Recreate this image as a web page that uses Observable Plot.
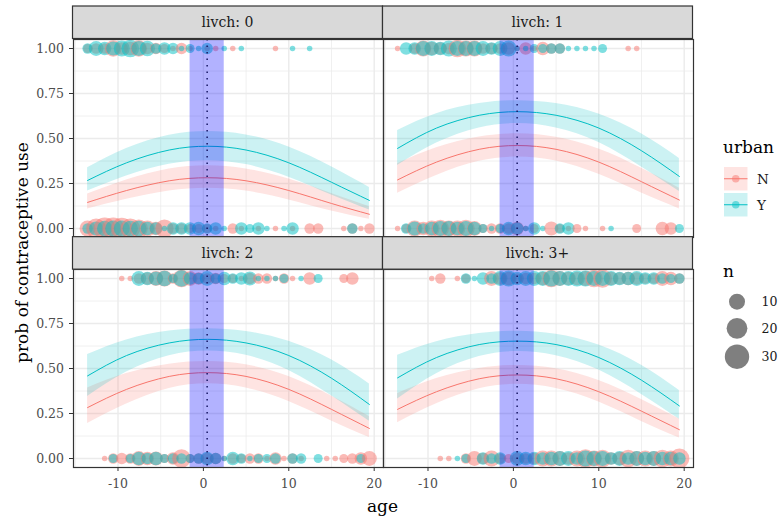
<!DOCTYPE html>
<html><head><meta charset="utf-8">
<script src="https://cdn.jsdelivr.net/npm/d3@7"></script>
<script src="https://cdn.jsdelivr.net/npm/@observablehq/plot@0.6"></script>
<style>
body{margin:0;background:#fff;}
#wrap{position:relative;width:779px;height:520px;background:#fff;overflow:hidden;}
#wrap svg{position:absolute;left:0;top:0;}
</style></head><body><div id="wrap"></div>
<script>
// ---------- data ----------
const ages = [-13.56,-12.56,-11.56,-10.56,-9.56,-8.56,-7.56,-6.56,-5.56,-4.56,-3.56,-2.56,-1.56,-0.56,0.44,1.44,2.44,3.44,4.44,5.44,6.44,7.44,8.44,9.44,10.44,11.44,12.44,13.44,14.44,15.44,16.44,17.44,18.44,19.44];
const livchLevels = ["0","1","2","3+"];
const urbanLevels = ["N","Y"];

// counts n by age index (use = 1 row, use = 0 row), per urban
const l0_use_N = [2,3,3,11,5,6,11,4,4,2, 1,4,1,0,1,1,0,1,0,0, 0,0,1,0,0,0,0,0,0,0, 0,0,0,0];
const l0_use_Y = [3,8,6,7,10,13,8,9,3,5, 4,1,2,1,4,0,1,0,1,0, 0,0,0,0,1,0,1,0,0,0, 0,0,0,0];
const l0_non_N = [10,18,23,23,22,18,14,10,6,14, 3,3,2,2,2,1,0,3,1,0, 1,0,1,0,1,0,3,3,0,0, 1,3,1,3];
const l0_non_Y = [3,7,9,10,10,9,9,6,5,1, 5,5,5,6,3,5,1,0,5,2, 5,1,0,1,5,0,0,0,0,0, 0,3,0,0];
const l1_use_N = [1,0,3,10,6,5,4,13,10,10, 3,4,3,5,1,5,1,6,3,3, 0,0,0,0,0,0,0,1,1,0, 0,0,0,0];
const l1_use_Y = [0,5,5,8,8,6,10,8,8,8, 8,5,8,10,1,1,2,2,3,3, 1,1,1,1,2,0,0,0,0,0, 0,0,0,0];
const l1_non_N = [1,2,10,6,10,13,10,10,13,8, 2,3,3,3,6,1,2,0,7,2, 1,2,1,0,1,0,0,0,2,0, 0,6,5,0];
const l1_non_Y = [0,3,7,3,6,8,8,6,8,6, 2,1,2,6,5,1,5,1,0,3, 5,0,0,0,0,1,0,0,0,0, 0,0,0,2];
const l2_use_N = [0,0,0,0,1,1,3,5,8,10, 3,13,8,5,3,4,2,2,1,4, 3,3,1,3,1,0,5,0,0,0, 2,5,0,0];
const l2_use_Y = [0,0,0,0,0,0,8,6,7,9, 2,11,5,4,8,3,6,3,5,7, 1,1,1,2,0,1,0,2,0,0, 0,0,0,0];
const l2_non_N = [0,0,1,3,4,3,8,6,7,2, 5,15,2,3,4,4,1,3,2,3, 3,1,5,1,3,1,0,0,1,1, 2,3,5,8];
const l2_non_Y = [0,0,0,2,0,2,6,4,6,2, 3,3,2,3,6,4,1,6,3,1, 2,2,3,0,3,3,0,2,0,0, 0,0,2,0];
const l3_use_N = [0,0,0,0,1,3,0,1,2,0, 0,8,5,6,3,4,4,6,13,8, 6,6,8,13,15,6,5,6,5,3, 3,8,6,3];
const l3_use_Y = [0,0,0,0,0,0,0,0,3,1, 5,3,8,10,6,8,8,8,10,8, 8,10,10,8,8,8,6,6,8,5, 5,3,2,3];
const l3_non_N = [0,0,0,0,0,1,1,0,3,8, 4,10,3,2,4,3,4,10,10,8, 5,10,15,10,13,5,6,13,8,10, 8,13,10,18];
const l3_non_Y = [0,0,0,0,0,0,0,1,2,0, 5,3,5,0,8,6,6,5,6,8, 8,5,10,8,8,5,8,5,8,6, 8,6,6,5];

// fitted probability curves with confidence band
const fitAge = [-13.56,-9,-4,0.5,5,10,15,19.44];
const fit_l0_N = [0.145,0.211,0.265,0.282,0.265,0.211,0.139,0.079];
const lo_l0_N  = [0.109,0.163,0.209,0.224,0.208,0.159,0.097,0.051];
const hi_l0_N  = [0.191,0.269,0.330,0.349,0.331,0.275,0.195,0.121];
const fit_l0_Y = [0.267,0.365,0.436,0.457,0.436,0.365,0.257,0.156];
const lo_l0_Y  = [0.208,0.292,0.357,0.377,0.355,0.285,0.186,0.103];
const hi_l0_Y  = [0.337,0.444,0.518,0.539,0.520,0.453,0.343,0.228];
const fit_l1_N = [0.270,0.369,0.440,0.461,0.440,0.369,0.260,0.158];
const lo_l1_N  = [0.196,0.295,0.373,0.397,0.375,0.301,0.197,0.109];
const hi_l1_N  = [0.361,0.449,0.509,0.526,0.507,0.442,0.335,0.224];
const fit_l1_Y = [0.445,0.558,0.629,0.649,0.629,0.558,0.432,0.289];
const lo_l1_Y  = [0.350,0.475,0.559,0.583,0.559,0.478,0.342,0.206];
const hi_l1_Y  = [0.545,0.638,0.694,0.710,0.694,0.636,0.526,0.389];
const fit_l2_N = [0.283,0.384,0.456,0.477,0.456,0.384,0.273,0.167];
const lo_l2_N  = [0.195,0.303,0.389,0.415,0.392,0.317,0.209,0.116];
const hi_l2_N  = [0.392,0.472,0.524,0.539,0.521,0.455,0.347,0.233];
const fit_l2_Y = [0.459,0.572,0.642,0.662,0.642,0.572,0.446,0.300];
const lo_l2_Y  = [0.344,0.480,0.571,0.597,0.573,0.489,0.348,0.207];
const hi_l2_Y  = [0.578,0.659,0.708,0.721,0.706,0.651,0.548,0.414];
const fit_l3_N = [0.273,0.371,0.443,0.464,0.443,0.371,0.263,0.160];
const lo_l3_N  = [0.199,0.304,0.387,0.412,0.389,0.314,0.206,0.114];
const hi_l3_N  = [0.361,0.444,0.500,0.517,0.498,0.433,0.328,0.219];
const fit_l3_Y = [0.448,0.561,0.633,0.652,0.633,0.561,0.435,0.292];
const lo_l3_Y  = [0.330,0.471,0.566,0.594,0.571,0.491,0.356,0.218];
const hi_l3_Y  = [0.573,0.648,0.694,0.707,0.690,0.630,0.518,0.378];

// highlighted age band and its centre
const bandAge = [-1.56, 2.44];
const centreAge = [0.44];

// axis ticks and legend values
const xTicks = [-10, 0, 10, 20];
const xMinor = [-15, -5, 5, 15];
const yTicks = [0, 0.25, 0.5, 0.75, 1];
const yMinor = [0.125, 0.375, 0.625, 0.875];
const sizeLegend = [10, 20, 30];

// ---------- tables ----------
const countSets = {
  "0": {1: {N: l0_use_N, Y: l0_use_Y}, 0: {N: l0_non_N, Y: l0_non_Y}},
  "1": {1: {N: l1_use_N, Y: l1_use_Y}, 0: {N: l1_non_N, Y: l1_non_Y}},
  "2": {1: {N: l2_use_N, Y: l2_use_Y}, 0: {N: l2_non_N, Y: l2_non_Y}},
  "3+": {1: {N: l3_use_N, Y: l3_use_Y}, 0: {N: l3_non_N, Y: l3_non_Y}}
};
const fitSets = {
  "0": {N: [fit_l0_N, lo_l0_N, hi_l0_N], Y: [fit_l0_Y, lo_l0_Y, hi_l0_Y]},
  "1": {N: [fit_l1_N, lo_l1_N, hi_l1_N], Y: [fit_l1_Y, lo_l1_Y, hi_l1_Y]},
  "2": {N: [fit_l2_N, lo_l2_N, hi_l2_N], Y: [fit_l2_Y, lo_l2_Y, hi_l2_Y]},
  "3+": {N: [fit_l3_N, lo_l3_N, hi_l3_N], Y: [fit_l3_Y, lo_l3_Y, hi_l3_Y]}
};
const colOf = {"0": 0, "1": 1, "2": 0, "3+": 1};
const rowOf = {"0": 0, "1": 0, "2": 1, "3+": 1};

const points = [];
for (const lv of livchLevels) for (const use of [0, 1]) ages.forEach((a, i) => {
  for (const u of urbanLevels) {
    const n = countSets[lv][use][u][i];
    if (n > 0) points.push({livch: lv, use, urban: u, age: a, n});
  }
});
const fits = [];
for (const lv of livchLevels) for (const u of urbanLevels) fitAge.forEach((a, k) => {
  const [f, lo, hi] = fitSets[lv][u];
  fits.push({livch: lv, urban: u, age: a, fit: f[k], lo: lo[k], hi: hi[k]});
});
const bands = [{lo: bandAge[0], hi: bandAge[1]}];

// ---------- layout ----------
const FONT = "DejaVu Serif, serif";
const W = 779, H = 520;
const mL = 72.5, mR = 86.5, mT = 38.5, mB = 52.7;
const stripH = 32.5;
const panelW = (W - mL - mR) / 2;
const panelH = (H - mT - mB - stripH) / 2;
const padInner = stripH / (panelH + stripH);
const FX = d => colOf[d.livch], FY = d => rowOf[d.livch];

const chart = Plot.plot({
  width: W, height: H,
  marginLeft: mL, marginRight: mR, marginTop: mT, marginBottom: mB,
  style: {background: "transparent", fontFamily: FONT, fontSize: "12.5px", color: "#4d4d4d", overflow: "visible"},
  fx: {axis: null, domain: [0, 1], paddingInner: 0, paddingOuter: 0},
  fy: {axis: null, domain: [0, 1], paddingInner: padInner, paddingOuter: 0},
  x: {domain: [-15.21, 21.09]},
  y: {domain: [-0.05, 1.05]},
  r: {type: "sqrt", domain: [0, 34], range: [2.73, 12.97]},
  color: {domain: urbanLevels, range: ["#F8766D", "#00BFC4"]},
  marks: [
    Plot.gridX({ticks: xMinor, stroke: "#ebebeb", strokeOpacity: 1, strokeWidth: 0.75}),
    Plot.gridY({ticks: yMinor, stroke: "#ebebeb", strokeOpacity: 1, strokeWidth: 0.75}),
    Plot.gridX({ticks: xTicks, stroke: "#ebebeb", strokeOpacity: 1, strokeWidth: 1.4}),
    Plot.gridY({ticks: yTicks, stroke: "#ebebeb", strokeOpacity: 1, strokeWidth: 1.4}),
    Plot.dot(points, {x: "age", y: "use", r: d => d.n - 1, fill: "urban", fillOpacity: 0.5, stroke: null, sort: null, fx: FX, fy: FY, clip: true}),
    Plot.areaY(fits, {x: "age", y1: "lo", y2: "hi", fill: "urban", z: "urban", fillOpacity: 0.2, curve: "natural", fx: FX, fy: FY}),
    Plot.line(fits, {x: "age", y: "fit", stroke: "urban", z: "urban", strokeWidth: 1, curve: "natural", fx: FX, fy: FY}),
    Plot.ruleX(centreAge, {stroke: "#222", strokeWidth: 1.5, strokeDasharray: "1.5,5"}),
    Plot.rect(bands, {x1: "lo", x2: "hi", fill: "blue", fillOpacity: 0.3}),
    Plot.frame({stroke: "#333", strokeWidth: 1.2}),
    Plot.axisX({ticks: xTicks, tickFormat: d => String(d), tickSize: 4, tickPadding: 7.5, stroke: "#333", fill: "#4d4d4d", label: null, fontSize: 12.5}),
    Plot.axisY({ticks: yTicks, tickFormat: ".2f", tickSize: 4, tickPadding: 5.5, stroke: "#333", fill: "#4d4d4d", label: null, fontSize: 12.5})
  ]
});
document.getElementById("wrap").appendChild(chart);

// ---------- strips, titles, legends ----------
const svg = d3.select("#wrap").append("svg")
  .attr("width", W).attr("height", H).style("font-family", FONT);

for (const lv of livchLevels) {
  const x0 = mL + colOf[lv] * panelW;
  const y0 = mT + rowOf[lv] * (panelH + stripH) - stripH;
  svg.append("rect").attr("x", x0).attr("y", y0).attr("width", panelW).attr("height", stripH)
    .attr("fill", "#d9d9d9").attr("stroke", "#333").attr("stroke-width", 1.2);
  svg.append("text").attr("x", x0 + panelW / 2).attr("y", y0 + stripH / 2 + 5)
    .attr("text-anchor", "middle").attr("font-size", 14).attr("fill", "#1a1a1a").text("livch: " + lv);
}

svg.append("text").attr("x", mL + panelW).attr("y", 511.5).attr("text-anchor", "middle")
  .attr("font-size", 17).attr("fill", "#000").text("age");
svg.append("text").attr("transform", "translate(28,252.5) rotate(-90)").attr("text-anchor", "middle")
  .attr("font-size", 17).attr("fill", "#000").text("prob of contraceptive use");

// colour legend
const colorScale = chart.scale("color");
svg.append("text").attr("x", 723).attr("y", 153).attr("font-size", 17).attr("fill", "#000").text("urban");
urbanLevels.forEach((u, k) => {
  const y0 = 167 + k * 26, c = colorScale.apply(u);
  svg.append("rect").attr("x", 724).attr("y", y0).attr("width", 23.5).attr("height", 23.5)
    .attr("fill", c).attr("fill-opacity", 0.2);
  svg.append("line").attr("x1", 724).attr("x2", 747.5).attr("y1", y0 + 11.75).attr("y2", y0 + 11.75)
    .attr("stroke", c).attr("stroke-width", 1);
  svg.append("circle").attr("cx", 735.75).attr("cy", y0 + 11.75).attr("r", 3.75)
    .attr("fill", c).attr("fill-opacity", 0.5);
  svg.append("text").attr("x", 757).attr("y", y0 + 16.5).attr("font-size", 13.5).attr("fill", "#1a1a1a").text(u);
});

// size legend
const rScale = chart.scale("r");
svg.append("text").attr("x", 723).attr("y", 276.5).attr("font-size", 17).attr("fill", "#000").text("n");
const sizeY = [301.7, 328.3, 356.7];
sizeLegend.forEach((n, k) => {
  svg.append("circle").attr("cx", 737).attr("cy", sizeY[k]).attr("r", rScale.apply(n - 1))
    .attr("fill", "#000").attr("fill-opacity", 0.5);
  svg.append("text").attr("x", 761.5).attr("y", sizeY[k] + 4.5).attr("font-size", 12.5).attr("fill", "#1a1a1a").text(String(n));
});
</script>
</body></html>
